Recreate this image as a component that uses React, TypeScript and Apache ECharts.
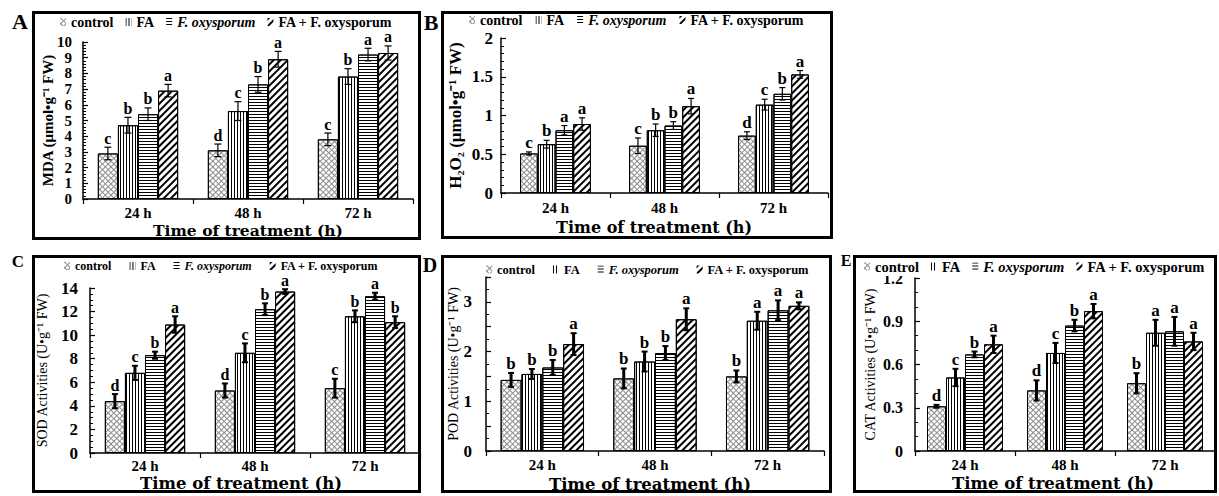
import React, { useEffect, useRef } from 'react';
import * as echarts from 'echarts';

// ---------- data ----------
const categories = ['24 h', '48 h', '72 h'];
const seriesNames = ['control', 'FA', 'F. oxysporum', 'FA + F. oxysporum'];

// values per series (rows: control, FA, F. oxysporum, FA + F. oxysporum), columns: 24 h, 48 h, 72 h
const mdaValues = [[2.9, 3.1, 3.8], [4.7, 5.6, 7.8], [5.4, 7.3, 9.2], [6.9, 8.9, 9.3]];
const mdaErrors = [[0.4, 0.4, 0.4], [0.5, 0.6, 0.5], [0.4, 0.5, 0.4], [0.4, 0.5, 0.45]];
const mdaLetters = [['c', 'd', 'c'], ['b', 'c', 'b'], ['b', 'b', 'a'], ['a', 'a', 'a']];

const h2o2Values = [[0.51, 0.61, 0.74], [0.63, 0.81, 1.14], [0.81, 0.87, 1.28], [0.89, 1.12, 1.53]];
const h2o2Errors = [[0.02, 0.1, 0.05], [0.05, 0.08, 0.07], [0.06, 0.05, 0.08], [0.08, 0.1, 0.05]];
const h2o2Letters = [['c', 'c', 'd'], ['b', 'b', 'c'], ['a', 'b', 'b'], ['a', 'a', 'a']];

const sodValues = [[4.4, 5.3, 5.5], [6.8, 8.5, 11.6], [8.3, 12.2, 13.3], [10.9, 13.7, 11.1]];
const sodErrors = [[0.6, 0.6, 0.8], [0.6, 0.8, 0.5], [0.3, 0.5, 0.3], [0.7, 0.2, 0.5]];
const sodLetters = [['d', 'd', 'c'], ['c', 'c', 'b'], ['b', 'b', 'a'], ['a', 'a', 'b']];

const podValues = [[1.43, 1.46, 1.5], [1.55, 1.8, 2.62], [1.68, 1.97, 2.83], [2.15, 2.65, 2.92]];
const podErrors = [[0.14, 0.2, 0.12], [0.1, 0.2, 0.18], [0.15, 0.14, 0.2], [0.22, 0.22, 0.07]];
const podLetters = [['b', 'b', 'b'], ['b', 'b', 'a'], ['b', 'b', 'a'], ['a', 'a', 'a']];

const catValues = [[0.31, 0.42, 0.47], [0.51, 0.68, 0.82], [0.67, 0.87, 0.83], [0.74, 0.97, 0.76]];
const catErrors = [[0.01, 0.07, 0.07], [0.06, 0.07, 0.09], [0.02, 0.04, 0.1], [0.06, 0.05, 0.06]];
const catLetters = [['d', 'd', 'b'], ['c', 'c', 'a'], ['b', 'b', 'a'], ['a', 'a', 'a']];

// ---------- styles ----------
const SERIF = "'Liberation Serif', 'Times New Roman', serif";
const WIDE = "'DejaVu Serif', serif";

const decals: any[] = [
  { symbol: 'rect', symbolSize: 1, color: '#8c8c8c', dashArrayX: [[1, 0], [1, 3], [1, 3], [1, 3]], dashArrayY: [1, 0], rotation: Math.PI / 4 },
  { symbol: 'rect', symbolSize: 1, color: '#000000', dashArrayX: [1, 2], dashArrayY: [1, 0], rotation: 0 },
  { symbol: 'rect', symbolSize: 1, color: '#000000', dashArrayX: [1, 0], dashArrayY: [1, 2], rotation: 0 },
  { symbol: 'rect', symbolSize: 1, color: '#000000', dashArrayX: [1, 0], dashArrayY: [2, 3], rotation: -Math.PI / 4 },
];

const panels: any[] = [
  {
    label: 'A', values: mdaValues, errors: mdaErrors, letters: mdaLetters,
    yName: 'MDA (μmol•g⁻¹ FW)', yNameWeight: 'bold', yNameSize: 15, yNameGap: 28,
    max: 10, interval: 1, minorSplit: 5, yLabelSize: 15, yLabelLH: 12, yLabelMargin: 11, intOnly: false,
    grid: { left: 83, top: 42, width: 330, height: 157 }, gap: 0.27, xLabelMargin: 6,
    legend: { left: 58, top: 13, fontSize: 14, itemGap: 12 },
    box: [33.5, 12.5, 386, 226], letterPos: [20, 21, 22], title: [248, 230, 15.5],
    errW: 1.2, capHalf: 3.5, capW: 1.2, letterSize: 16,
  },
  {
    label: 'B', values: h2o2Values, errors: h2o2Errors, letters: h2o2Letters,
    yName: 'H₂O₂ (μmol•g⁻¹ FW)', yNameWeight: 'bold', yNameSize: 17, yNameGap: 37,
    max: 2, interval: 0.5, minorSplit: 5, yLabelSize: 17, yLabelLH: 14, yLabelMargin: 8, intOnly: false,
    grid: { left: 501, top: 38, width: 327, height: 155 }, gap: 0.35, xLabelMargin: 7,
    legend: { left: 467, top: 11, fontSize: 14, itemGap: 13 },
    box: [442.5, 12.5, 389, 225], letterPos: [431, 22, 22], title: [654, 227, 16],
    errW: 1.2, capHalf: 3, capW: 1.2, letterSize: 17,
  },
  {
    label: 'C', values: sodValues, errors: sodErrors, letters: sodLetters,
    yName: 'SOD Activities (U•g⁻¹ FW)', yNameWeight: 'normal', yNameSize: 14, yNameGap: 41,
    max: 14, interval: 2, minorSplit: 4, yLabelSize: 17, yLabelLH: 16, yLabelMargin: 12, intOnly: false,
    grid: { left: 90, top: 288, width: 330, height: 165 }, gap: 0.27, xLabelMargin: 5,
    legend: { left: 62, top: 258, fontSize: 12, itemGap: 18 },
    box: [33.5, 256.5, 386, 235], letterPos: [18, 261, 17], title: [241, 483, 16.5],
    errW: 3, capHalf: 3, capW: 2, letterSize: 16,
  },
  {
    label: 'D', values: podValues, errors: podErrors, letters: podLetters,
    yName: 'POD Activities (U•g⁻¹ FW)', yNameWeight: 'normal', yNameSize: 14, yNameGap: 26,
    max: 3.5, interval: 0.5, minorSplit: 2, yLabelSize: 17, yLabelLH: 16, yLabelMargin: 14, intOnly: true,
    grid: { left: 486, top: 277, width: 338, height: 174 }, gap: 0.26, xLabelMargin: 6,
    legend: { left: 484, top: 261, fontSize: 12.5, itemGap: 18 },
    box: [442.5, 256.5, 388, 235], letterPos: [430, 265, 20], title: [650, 484, 16.5],
    errW: 3, capHalf: 3, capW: 2, letterSize: 17,
  },
  {
    label: 'E', values: catValues, errors: catErrors, letters: catLetters,
    yName: 'CAT Activities (U•g⁻¹ FW)', yNameWeight: 'normal', yNameSize: 14, yNameGap: 38,
    max: 1.2, interval: 0.3, minorSplit: 3, yLabelSize: 16, yLabelLH: 10, yLabelMargin: 12, intOnly: false,
    grid: { left: 915, top: 278, width: 300, height: 173 }, gap: 0.24, xLabelMargin: 6,
    legend: { left: 862, top: 257, fontSize: 14.5, itemGap: 12, bg: '#ffffff' },
    box: [854.5, 256.5, 361, 235], letterPos: [846, 260, 16], title: [1053, 483, 16.5],
    errW: 3, capHalf: 3, capW: 2, letterSize: 17,
  },
];

function buildOption() {
  const grid = panels.map((p) => ({ ...p.grid, containLabel: false }));
  const xAxis = panels.map((p, i) => ({
    gridIndex: i,
    type: 'category',
    data: categories,
    axisLine: { show: true, lineStyle: { color: '#000', width: 1.5 } },
    axisTick: { show: true, length: 5, lineStyle: { color: '#000', width: 1.2 } },
    axisLabel: { color: '#000', fontFamily: SERIF, fontWeight: 'bold', fontSize: 15, lineHeight: 15, margin: p.xLabelMargin },
    splitLine: { show: false },
  }));
  const yAxis = panels.map((p, i) => ({
    gridIndex: i,
    type: 'value',
    min: 0,
    max: p.max,
    interval: p.interval,
    axisLine: { show: true, lineStyle: { color: '#000', width: 1.5 } },
    axisTick: { show: true, inside: true, length: 5, lineStyle: { color: '#000', width: 1.2 } },
    minorTick: { show: true, splitNumber: p.minorSplit, length: 3, lineStyle: { color: '#000', width: 1 } },
    splitLine: { show: false },
    axisLabel: {
      show: true,
      showMinLabel: true,
      showMaxLabel: true,
      hideOverlap: false,
      color: '#000', fontFamily: SERIF, fontWeight: 'bold', fontSize: p.yLabelSize, lineHeight: p.yLabelLH,
      margin: p.yLabelMargin,
      formatter: (v: number) => (p.intOnly && Math.abs(v - Math.round(v)) > 1e-6 ? '' : String(Math.round(v * 100) / 100)),
    },
    name: p.yName,
    nameLocation: 'middle',
    nameRotate: 90,
    nameGap: p.yNameGap,
    nameMoveOverlap: false,
    nameTextStyle: { color: '#000', fontFamily: SERIF, fontWeight: p.yNameWeight, fontSize: p.yNameSize },
  }));
  const legend = panels.map((p) => ({
    data: seriesNames,
    left: p.legend.left,
    top: p.legend.top,
    orient: 'horizontal',
    itemWidth: 6,
    itemHeight: 8,
    itemGap: p.legend.itemGap,
    icon: 'rect',
    padding: [2, 2, 2, 2],
    backgroundColor: p.legend.bg || 'transparent',
    selectedMode: false,
    itemStyle: { borderWidth: 0 },
    formatter: (n: string) => (n === 'F. oxysporum' ? '{i|F. oxysporum}' : n),
    textStyle: {
      color: '#000', fontFamily: SERIF, fontWeight: 'bold', fontSize: p.legend.fontSize,
      rich: { i: { color: '#000', fontFamily: SERIF, fontWeight: 'bold', fontStyle: 'italic', fontSize: p.legend.fontSize } },
    },
  }));

  const series: any[] = [];
  panels.forEach((p, i) => {
    seriesNames.forEach((name, s) => {
      series.push({
        type: 'bar',
        name,
        xAxisIndex: i,
        yAxisIndex: i,
        data: p.values[s],
        barGap: '0%',
        barCategoryGap: `${p.gap * 100}%`,
        silent: true,
        itemStyle: { color: '#ffffff', borderColor: '#000', borderWidth: 1, decal: decals[s] },
        emphasis: { disabled: true },
      });
    });
    const items: number[][] = [];
    for (let s = 0; s < 4; s++) {
      for (let c = 0; c < categories.length; c++) {
        items.push([c, p.values[s][c], p.errors[s][c], s]);
      }
    }
    series.push({
      type: 'custom',
      name: `err-${p.label}`,
      xAxisIndex: i,
      yAxisIndex: i,
      z: 10,
      silent: true,
      clip: false,
      dimensions: ['x', 'y', 'err', 's'],
      encode: { x: 0, y: 1 },
      data: items,
      renderItem: (params: any, api: any) => {
        const c = api.value(0);
        const mean = api.value(1);
        const err = api.value(2);
        const s = api.value(3);
        const base = api.coord([c, mean]);
        const catW = api.size([1, 0])[0];
        const groupW = catW * (1 - p.gap);
        const bw = groupW / 4;
        const x = base[0] - groupW / 2 + (s + 0.5) * bw;
        const yHi = api.coord([c, mean + err])[1];
        const yLo = api.coord([c, mean - err])[1];
        const st = { stroke: '#000', lineWidth: p.errW };
        const cs = { stroke: '#000', lineWidth: p.capW };
        return {
          type: 'group',
          children: [
            { type: 'line', shape: { x1: x, y1: yHi, x2: x, y2: yLo }, style: st },
            { type: 'line', shape: { x1: x - p.capHalf, y1: yHi, x2: x + p.capHalf, y2: yHi }, style: cs },
            { type: 'line', shape: { x1: x - p.capHalf, y1: yLo, x2: x + p.capHalf, y2: yLo }, style: cs },
            {
              type: 'text',
              style: {
                text: p.letters[s][c], x, y: yHi - 1,
                align: 'center', verticalAlign: 'bottom', textAlign: 'center', textVerticalAlign: 'bottom',
                font: `bold ${p.letterSize}px ${SERIF}`, fill: '#000',
              },
            },
          ],
        };
      },
    });
  });

  const graphic: any[] = [];
  panels.forEach((p) => {
    graphic.push({
      type: 'rect', silent: true, z: 100,
      shape: { x: p.box[0], y: p.box[1], width: p.box[2], height: p.box[3] },
      style: { fill: 'none', stroke: '#000', lineWidth: 3 },
    });
    graphic.push({
      type: 'text', silent: true, z: 100,
      style: {
        text: p.label, x: p.letterPos[0], y: p.letterPos[1],
        align: 'center', verticalAlign: 'middle', textAlign: 'center', textVerticalAlign: 'middle',
        font: `bold ${p.letterPos[2]}px ${SERIF}`, fill: '#000',
      },
    });
    graphic.push({
      type: 'text', silent: true, z: 100,
      style: {
        text: 'Time of treatment (h)', x: p.title[0], y: p.title[1],
        align: 'center', verticalAlign: 'middle', textAlign: 'center', textVerticalAlign: 'middle',
        font: `bold ${p.title[2]}px ${WIDE}`, fill: '#000',
      },
    });
  });

  return {
    animation: false,
    backgroundColor: '#ffffff',
    textStyle: { fontFamily: SERIF },
    grid,
    xAxis,
    yAxis,
    legend,
    series,
    graphic,
  };
}

export default function App() {
  const ref = useRef<HTMLDivElement>(null);
  useEffect(() => {
    if (!ref.current) return;
    const chart = echarts.init(ref.current, null, { renderer: 'svg' });
    chart.setOption(buildOption() as any);
    return () => chart.dispose();
  }, []);
  return (
    <div
      ref={ref}
      style={{ position: 'absolute', left: 0, top: 0, width: 1219, height: 496, background: '#fff' }}
    />
  );
}
